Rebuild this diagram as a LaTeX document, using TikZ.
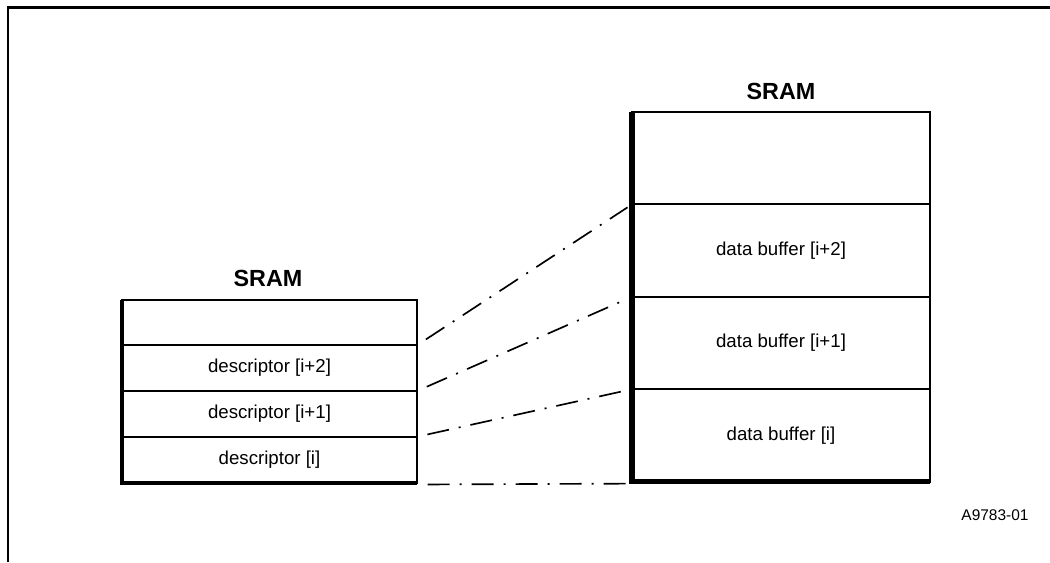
\documentclass[tikz,border=0pt]{standalone}
\usepackage{fontspec}
\setmainfont{Liberation Sans}
\begin{document}
\begin{tikzpicture}[x=0.75pt,y=-0.75pt,
  frame/.style={line width=2.1pt},
  cell/.style={draw, line width=1.5pt, inner sep=0pt, outer sep=0pt, font=\fontsize{14}{16}\selectfont},
  lcell/.style={cell, minimum width=221.25pt, minimum height=34.31pt},
  rcell/.style={cell, minimum width=223.5pt, minimum height=69.3pt},
  title/.style={font=\fontsize{17.5}{20}\selectfont\bfseries},
  idlabel/.style={font=\fontsize{11.6}{14}\selectfont},
  lshade/.style={line width=3pt},
  rshade/.style={line width=4.2pt},
  link/.style={line width=1.25pt, dash pattern=on 16.5pt off 7.5pt on 1.5pt off 7.5pt,
               shorten <=8pt, shorten >=4pt}]
\useasboundingbox (0,0) rectangle (1050,562);

% page frame (top and left rules)
\draw[frame] (8,562) -- (8,7.7) -- (1050,7.7);

% descriptor memory
\node[lcell] (l0) at (269.5,322.375) {};
\node[lcell] (l1) at (269.5,368.125) {descriptor [i+2]};
\node[lcell] (l2) at (269.5,413.875) {descriptor [i+1]};
\node[lcell] (l3) at (269.5,459.625) {descriptor [i]};
\draw[lshade] (l0.north west) -- (l3.south west) -- (l3.south east);
\node[title] (ltitle) at (268,278) {SRAM};

% data buffer memory
\node[rcell] (r0) at (781,158.2) {};
\node[rcell] (r1) at (781,250.6) {data buffer [i+2]};
\node[rcell] (r2) at (781,343) {data buffer [i+1]};
\node[rcell] (r3) at (781,435.4) {data buffer [i]};
\draw[rshade] (r0.north west) -- (r3.south west) -- (r3.south east);
\node[title] (rtitle) at (781,91) {SRAM};

% descriptor-to-buffer correspondence
\draw[link] (l0.south east) -- (r0.south west);
\draw[link] (l1.south east) -- (r1.south west);
\draw[link] (l2.south east) -- (r2.south west);
\draw[link] ([yshift=-1.5pt]l3.south east) -- ([yshift=-1.5pt]r3.south west);

\node[idlabel] (fig) at (995,515) {A9783-01};
\end{tikzpicture}
\end{document}
